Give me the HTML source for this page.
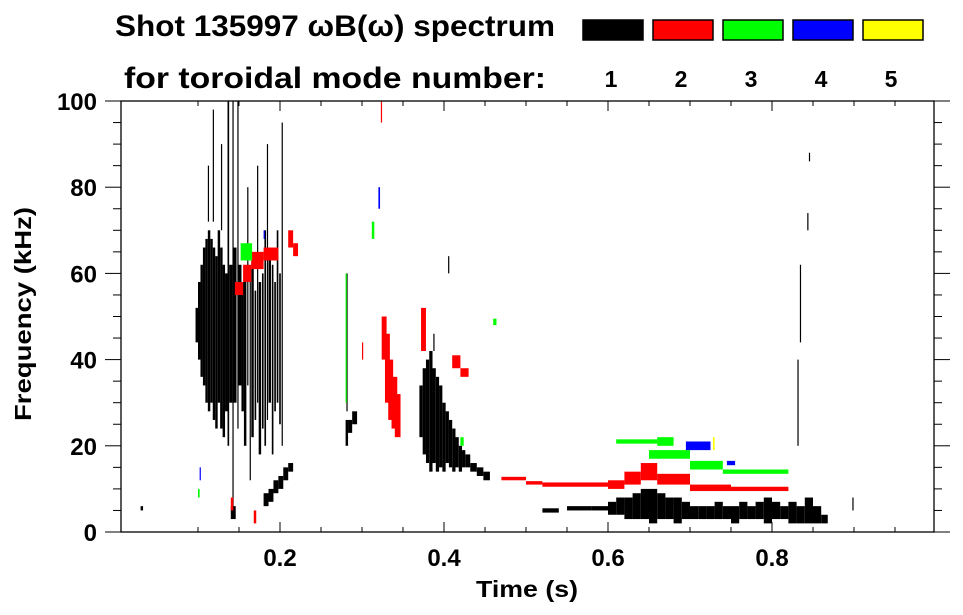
<!DOCTYPE html>
<html><head><meta charset="utf-8"><style>
html,body{margin:0;padding:0;background:#fff;}
svg{display:block;font-family:"Liberation Sans",sans-serif;font-weight:bold;}
</style></head><body>
<svg id="chart" width="963" height="615" viewBox="0 0 963 615">
<text x="115" y="36" font-size="30" textLength="440" lengthAdjust="spacingAndGlyphs">Shot 135997 ωB(ω) spectrum</text>
<text x="124" y="88" font-size="30" textLength="422" lengthAdjust="spacingAndGlyphs">for toroidal mode number:</text>
<g id="legend"></g>
<g id="marks"></g>
<g id="axes"></g>
<text x="527" y="597" font-size="23" textLength="102" lengthAdjust="spacingAndGlyphs" text-anchor="middle">Time (s)</text>
<text transform="translate(31,314) rotate(-90)" font-size="23" textLength="214" lengthAdjust="spacingAndGlyphs" text-anchor="middle">Frequency (kHz)</text>
</svg>
<script>
const modeLabels = ["1","2","3","4","5"];
const modeColors = ["#000000","#ff0000","#00ff00","#0000ff","#ffff00"];
const xTicks = [0.2,0.4,0.6,0.8];
const yTicks = [0,20,40,60,80,100];
// segments: [t0, t1, fLow, fHigh]
const mode1 = [
[0.030,0.033,5,6],[0.097,0.100,44,52],[0.100,0.103,40,58],[0.103,0.106,36,62],[0.106,0.109,34,66],[0.109,0.112,30,68],
[0.112,0.115,28,70],[0.115,0.118,30,68],[0.118,0.121,26,66],[0.121,0.124,24,64],[0.124,0.127,30,70],[0.127,0.130,24,66],
[0.130,0.133,22,62],[0.133,0.136,28,60],[0.136,0.138,20,100],[0.138,0.142,30,62],[0.142,0.143,5,100],[0.143,0.147,30,66],
[0.148,0.149,24,100],[0.149,0.153,34,62],[0.153,0.156,28,58],[0.156,0.159,20,60],[0.160,0.161,34,80],[0.163,0.164,12,60],
[0.165,0.168,22,64],[0.169,0.171,26,56],[0.172,0.173,30,85],[0.174,0.177,18,58],[0.178,0.180,24,60],[0.181,0.183,20,70],
[0.184,0.185,26,90],[0.186,0.189,30,66],[0.190,0.192,18,62],[0.193,0.195,28,58],[0.196,0.198,30,70],[0.199,0.201,25,60],
[0.202,0.203,20,95],[0.118,0.119,72,98],[0.128,0.129,70,90],[0.112,0.113,72,85],[0.140,0.146,3,6],
[0.180,0.186,6,9],[0.186,0.192,7,10],[0.192,0.198,9,12],[0.198,0.204,10,13],[0.204,0.210,12,15],[0.210,0.216,14,16],
[0.280,0.283,20,26],[0.283,0.288,23,26],[0.288,0.294,25,28],[0.281,0.282,28,60],
[0.370,0.374,22,34],[0.374,0.378,18,38],[0.378,0.382,16,40],[0.382,0.386,14,42],[0.386,0.390,16,38],[0.390,0.394,14,36],
[0.394,0.398,15,34],[0.398,0.402,14,30],[0.402,0.406,16,28],[0.406,0.410,15,26],[0.410,0.414,14,24],[0.414,0.418,15,22],
[0.418,0.422,14,20],[0.422,0.426,15,19],[0.426,0.432,15,18],[0.432,0.440,14,16],[0.440,0.448,13,15],[0.448,0.456,12,14],
[0.387,0.388,42,46],[0.405,0.406,60,64],
[0.520,0.540,4.5,5.5],[0.550,0.580,5,6],[0.580,0.600,5,6],[0.600,0.610,4,7],[0.610,0.620,4,8],[0.620,0.630,3,8],
[0.630,0.640,3,9],[0.640,0.650,3,10],[0.650,0.660,2,10],[0.660,0.670,3,9],[0.670,0.680,3,8],[0.680,0.690,2,8],
[0.690,0.700,3,7],[0.700,0.710,3,6],[0.710,0.720,3,6],[0.720,0.730,3,6],[0.730,0.740,3,7],[0.740,0.750,3,6],
[0.750,0.760,2,6],[0.760,0.770,3,7],[0.770,0.780,3,6],[0.780,0.790,3,7],[0.790,0.800,2,8],[0.800,0.810,3,7],
[0.810,0.820,3,6],[0.820,0.830,2,7],[0.830,0.840,2,6],[0.840,0.850,2,8],[0.850,0.860,2,6],[0.860,0.868,2,4],
[0.831,0.832,20,40],[0.834,0.835,44,62],[0.845,0.846,86,88],[0.843,0.844,70,74],[0.898,0.899,5,8]
];
const mode2 = [
[0.140,0.143,5,8],[0.168,0.171,2,5],[0.145,0.155,55,58],[0.155,0.165,58,62],[0.165,0.180,61,65],[0.180,0.198,63,66],
[0.210,0.216,66,70],[0.216,0.222,64,67],[0.300,0.301,40,44],[0.323,0.324,95,100],
[0.324,0.330,40,50],[0.328,0.334,30,46],[0.332,0.338,26,40],[0.336,0.343,24,36],[0.340,0.347,22,32],
[0.372,0.378,42,52],[0.410,0.420,38,41],[0.420,0.430,36,38],
[0.470,0.500,12,12.8],[0.500,0.520,11,11.8],[0.520,0.600,10.5,11.5],[0.600,0.620,10,12],[0.620,0.640,11,14],
[0.640,0.660,12,16],[0.660,0.700,11,13.5],[0.700,0.750,9.5,11],[0.750,0.820,9.5,10.5]
];
const mode3 = [
[0.152,0.166,63,67],[0.280,0.281,30,60],[0.312,0.315,68,72],[0.460,0.464,48,49.5],[0.420,0.424,20,22],
[0.610,0.660,20.5,21.5],[0.660,0.680,20,22],[0.650,0.700,17,19],[0.700,0.740,14.5,16.5],[0.740,0.820,13.5,14.5],
[0.100,0.102,8,10]
];
const mode4 = [[0.695,0.725,19,21],[0.320,0.322,75,80],[0.102,0.103,12,15],[0.745,0.755,15.5,16.5],[0.180,0.181,68,70]];
const mode5 = [[0.728,0.730,19,22]];
const series = [mode1,mode2,mode3,mode4,mode5];

const NS = "http://www.w3.org/2000/svg";
const L=121,R=934,T=101,B=532;
function xs(t){return 116+820*t;}
function ys(f){return B-(B-T)*f/100;}
function mk(tag,attrs,parent){const e=document.createElementNS(NS,tag);for(const k in attrs)e.setAttribute(k,attrs[k]);parent.appendChild(e);return e;}

const legend=document.getElementById('legend');
modeLabels.forEach((lab,i)=>{
  const r=mk('rect',{x:583+70*i,y:20,width:60,height:20,fill:modeColors[i],stroke:'#000','stroke-width':1.5},legend);
  
  
  const tx=mk('text',{x:611+70*i,y:87,'font-size':23,'text-anchor':'middle'},legend);
  tx.textContent=lab;
  
  
});

const marks=document.getElementById('marks');
series.forEach((segs,i)=>{
  segs.forEach(s=>{
    const x0=xs(s[0]),x1=xs(s[1]),y0=ys(s[3]),y1=ys(s[2]);
    const r=mk('rect',{x:x0,y:y0,width:Math.max(1.2,x1-x0),height:Math.max(1.5,y1-y0),fill:modeColors[i]},marks);
    
    
  });
});

const axes=document.getElementById('axes');
const fr=mk('rect',{x:L,y:T,width:R-L,height:B-T,fill:'none',stroke:'#000','stroke-width':1.3},axes);


for(let k=2;k<=19;k++){
  const t=k*0.05,x=xs(t);
  if(x<L||x>R)continue;
  const len=(k%4===0)?10:5;
  mk('line',{x1:x,x2:x,y1:B,y2:B-len,stroke:'#000','stroke-width':1},axes);
  mk('line',{x1:x,x2:x,y1:T,y2:T+len,stroke:'#000','stroke-width':1},axes);
}
for(let f=0;f<=100;f+=5){
  const y=ys(f),len=(f%20===0)?16:8;
  mk('line',{x1:L,x2:L-len,y1:y,y2:y,stroke:'#000','stroke-width':1},axes);
  mk('line',{x1:R,x2:R+len,y1:y,y2:y,stroke:'#000','stroke-width':1},axes);
}
xTicks.forEach(t=>{
  const tx=mk('text',{x:xs(t),y:566,'font-size':24,'text-anchor':'middle'},axes);
  tx.textContent=String(t);
  
  
});
yTicks.forEach(f=>{
  const tx=mk('text',{x:97,y:ys(f)+9,'font-size':24,'text-anchor':'end'},axes);
  tx.textContent=String(f);
  
  
});
</script>
</body></html>
